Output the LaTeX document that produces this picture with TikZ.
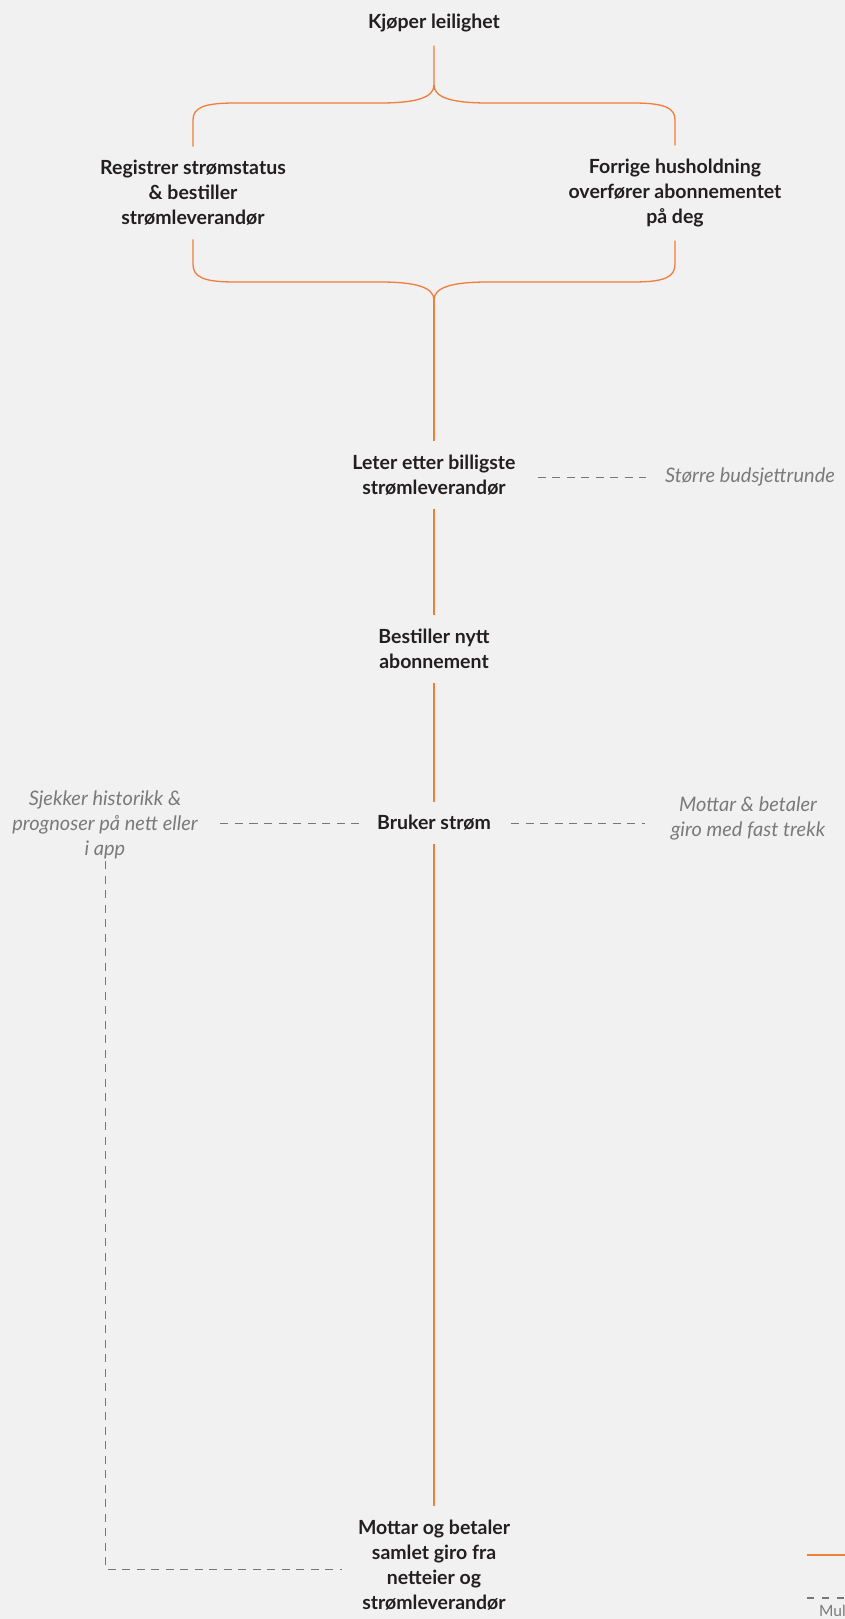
\documentclass[tikz,border=0pt]{standalone}
\usepackage{fontspec}
\setmainfont{Lato}
\definecolor{bg}{HTML}{F1F1F1}
\definecolor{txt}{HTML}{231F20}
\definecolor{orng}{HTML}{F07D3A}
\definecolor{sidegrey}{HTML}{7A7A7A}
\definecolor{dashgrey}{HTML}{777777}
\tikzset{
  mainnode/.style={font=\bfseries\fontsize{19.5}{25}\selectfont, text=txt, align=center, inner xsep=0pt, inner ysep=13.5pt},
  sidenode/.style={font=\itshape\fontsize{20}{25}\selectfont, text=sidegrey, align=center, inner xsep=0pt, inner ysep=2pt},
  orangeline/.style={draw=orng, line width=1.3pt},
  dashline/.style={draw=dashgrey, line width=0.9pt, dash pattern=on 8pt off 6.5pt},
}
\begin{document}
\begin{tikzpicture}[x=1pt,y=-1pt]
\useasboundingbox[fill=bg] (0,0) rectangle (845,1619);
\begin{scope}
\clip (0,0) rectangle (845,1619);
\node[mainnode] (kjoper) at (434,23) {Kjøper leilighet};
\node[mainnode] (reg) at (193,193) {Registrer strømstatus\\\& bestiller\\strømleverandør};
\node[mainnode] (forr) at (675,193) {Forrige husholdning\\overfører abonnementet\\på deg};
\node[mainnode] (leter) at (434,475) {Leter etter billigste\\strømleverandør};
\node[mainnode] (best) at (434,649) {Bestiller nytt\\abonnement};
\node[mainnode] (bruker) at (434,823) {Bruker strøm};
\node[mainnode] (mottar) at (434,1565) {Mottar og betaler\\samlet giro fra\\netteier og\\strømleverandør};
\node[sidenode] (storre) at (750,477) {Større budsjettrunde};
\node[sidenode] (sjekker) at (105,825) {Sjekker historikk \&\\prognoser på nett eller\\i app};
\node[sidenode] (mside) at (748,818) {Mottar \& betaler\\giro med fast trekk};

% top brace
\coordinate (tt) at (434,85);
\draw[orangeline] (kjoper.south) -- (tt)
  .. controls (434,98) and (415,103) .. (380,103) -- (235,103)
  .. controls (203,103) and (193,108) .. (193,120) -- (reg.north);
\draw[orangeline] (tt)
  .. controls (434,98) and (453,103) .. (488,103) -- (633,103)
  .. controls (665,103) and (675,108) .. (675,120) -- (forr.north);
% bottom brace
\coordinate (bt) at (434,300);
\draw[orangeline] (reg.south) -- (193,264)
  .. controls (193,277) and (203,282) .. (235,282) -- (380,282)
  .. controls (415,282) and (434,287) .. (bt);
\draw[orangeline] (forr.south) -- (675,264)
  .. controls (675,277) and (665,282) .. (633,282) -- (488,282)
  .. controls (453,282) and (434,287) .. (bt);
\draw[orangeline] (bt) -- (leter.north);
\draw[orangeline] (leter.south) -- (best.north);
\draw[orangeline] (best.south) -- (bruker.north);
\draw[orangeline] (bruker.south) -- (mottar.north);

% dashed side connectors
\draw[dashline, shorten <=22pt, shorten >=19pt] (leter.east |- storre.west) -- (storre.west);
\draw[dashline, shorten <=18pt, shorten >=19pt] (bruker.west) -- (sjekker.east |- bruker.west);
\draw[dashline, shorten <=20pt, shorten >=26pt] (bruker.east) -- (mside.west |- bruker.east);
\draw[dashline, shorten >=16pt] (sjekker.south) |- ([yshift=-4pt]mottar.west);

% legend (cut off at right edge)
\coordinate (lo1) at (807,1555);
\coordinate (lo2) at (850,1555);
\draw[draw=orng, line width=2.5pt] (lo1) -- (lo2);
\coordinate (ld1) at (807,1598);
\coordinate (ld2) at (850,1598);
\draw[draw=dashgrey, line width=1.8pt, dash pattern=on 7pt off 8pt] (ld1) -- (ld2);
\node[font=\fontsize{15.5}{18}\selectfont, text=sidegrey, anchor=base west, inner sep=0pt] (legtxt) at (819,1616) {Mul};
\end{scope}
\end{tikzpicture}
\end{document}
